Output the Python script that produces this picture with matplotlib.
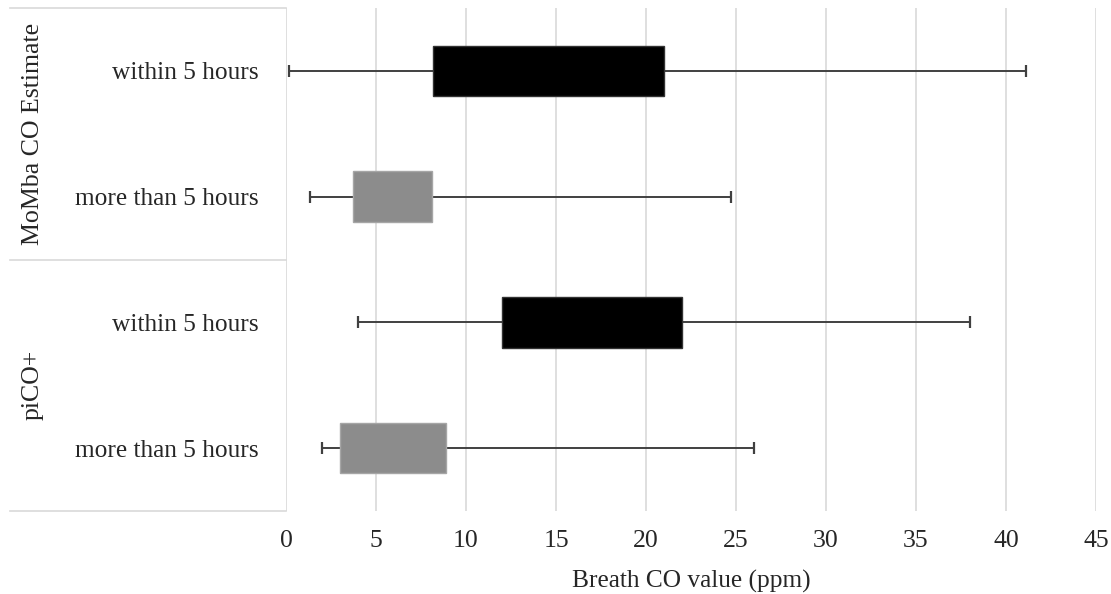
import matplotlib
matplotlib.use("Agg")
import matplotlib.pyplot as plt
from matplotlib.lines import Line2D

plt.rcParams['font.family'] = ['Liberation Serif', 'DejaVu Serif']

categories = ["within 5 hours", "more than 5 hours", "within 5 hours", "more than 5 hours"]
groups = ["MoMba CO Estimate", "piCO+"]
whisker_low = [0.15, 1.35, 4.0, 2.0]
q1 = [8.15, 3.7, 12.0, 3.0]
q3 = [21.0, 8.1, 22.0, 8.9]
whisker_high = [41.1, 24.7, 38.0, 26.0]
box_colors = ["#000000", "#8c8c8c", "#000000", "#8c8c8c"]
xticks = [0, 5, 10, 15, 20, 25, 30, 35, 40, 45]

W, H = 1111, 594
fig = plt.figure(figsize=(W / 100, H / 100), dpi=100)
L, R, T, B = 286, 1096, 8, 511
ax = fig.add_axes([L / W, 1 - B / H, (R - L) / W, (B - T) / H])

ypos = list(range(len(categories)))
ax.set_ylim(len(categories) - 0.5, -0.5)
ax.set_xlim(xticks[0], xticks[-1])

for x in xticks:
    ax.axvline(x, color="#d9d9d9", lw=1.2, zorder=0)

ax.hlines(ypos, whisker_low, whisker_high, color="#404040", lw=1.4, zorder=1)
ax.plot(whisker_low, ypos, ls="none", marker="|", ms=8, mew=1.6, color="#404040", zorder=1)
ax.plot(whisker_high, ypos, ls="none", marker="|", ms=8, mew=1.6, color="#404040", zorder=1)
widths = [b - a for a, b in zip(q1, q3)]
ax.barh(ypos, widths, left=q1, height=0.4, color=box_colors,
        edgecolor=["#333333", "#a6a6a6", "#333333", "#a6a6a6"], lw=1, zorder=2)

for s in ax.spines.values():
    s.set_visible(False)
ax.set_xticks(xticks)
ax.set_xticklabels([str(x) for x in xticks], fontsize=18.5)
ax.tick_params(axis="x", length=0, pad=13.5, colors="#262626")
ax.set_yticks(ypos)
ax.set_yticklabels(categories, fontsize=18.3)
ax.tick_params(axis="y", length=0, pad=20, colors="#262626")
ax.set_xlabel("Breath CO value (ppm)", fontsize=18.3, color="#262626", labelpad=13)

# Group bracket lines (figure pixel coords)
def fline(x0, y0, x1, y1):
    fig.add_artist(Line2D([x0 / W, x1 / W], [1 - y0 / H, 1 - y1 / H],
                          color="#d9d9d9", lw=1.2, transform=fig.transFigure))

fline(10, T, L, T)
fline(10, (T + B) / 2, L, (T + B) / 2)
fline(10, B, L, B)

# Group labels
n_per = len(categories) // len(groups)
for gi, g in enumerate(groups):
    yc = (gi * n_per + (gi + 1) * n_per - 1) / 2
    ax.annotate(g, xy=(33 / W, yc), xycoords=("figure fraction", "data"),
                rotation=90, ha="center", va="center", fontsize=18.6, color="#262626")

fig.savefig("out.png", dpi=100)
